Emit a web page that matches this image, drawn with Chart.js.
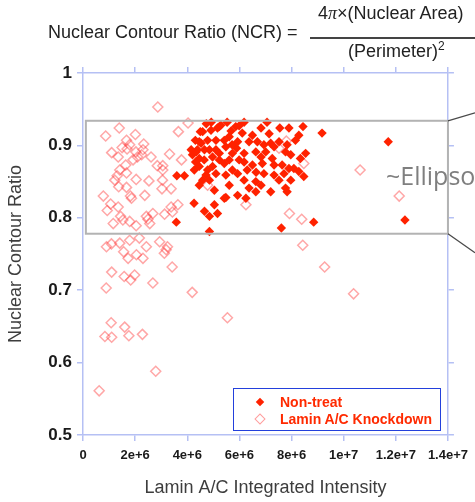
<!DOCTYPE html>
<html lang="en">
<head>
<meta charset="UTF-8">
<title>Nuclear Contour Ratio vs Lamin A/C Intensity</title>
<script src="https://cdn.jsdelivr.net/npm/chart.js"></script>
<style>
  html, body { margin: 0; padding: 0; background: #fff; overflow: hidden; }
  #wrap { position: relative; width: 475px; height: 502px; overflow: hidden;
          font-family: 'Liberation Sans', Arial, sans-serif; }
  #chart { position: absolute; left: 0; top: 0; }

  /* NCR formula above the plot */
  .eq { position: absolute; font-size: 18px; line-height: 18px; color: #222; white-space: nowrap; }
  .eq .pi { font-family: 'Liberation Serif', serif; font-style: italic; }
  .eq sup { font-size: 12px; line-height: 0; vertical-align: 7px; }
  #eqLhs { left: 48px; top: 23px; }
  #eqNum { left: 318px; top: 4px; }
  #eqDen { left: 348px; top: 42px; }
  #eqBar { position: absolute; left: 310px; top: 37px; width: 170px; height: 1.5px; background: #444; }

  #ellipse { position: absolute; left: 386px; top: 163px; font-family: 'Open Sans', sans-serif;
             font-size: 25px; line-height: 25px; color: #7f7f7f; white-space: nowrap; }

  #legend { position: absolute; left: 233px; top: 388px; width: 208px; height: 43px;
            box-sizing: border-box; border: 1.5px solid #2340dc; }
  #legend .row { position: absolute; left: 0; height: 16px; line-height: 16px;
                 font-size: 14px; font-weight: bold; color: #ff2a00; white-space: nowrap; }
  #legend .row span.txt { position: absolute; left: 46px; top: 0; }
  #legend .mk { position: absolute; transform: rotate(45deg); box-sizing: border-box; }
  #legend .mk.filled { left: 23px; top: 5px; width: 6px; height: 6px; background: #ff2200; }
  #legend .mk.open { left: 22px; top: 4px; width: 8px; height: 8px; border: 1.5px solid rgba(255, 60, 60, 0.5); }
</style>
</head>
<body>
<div id="wrap">
  <canvas id="chart" width="475" height="502"></canvas>

  <div class="eq" id="eqLhs">Nuclear Contour Ratio (NCR) =</div>
  <div class="eq" id="eqNum">4<span class="pi">π</span>×(Nuclear Area)</div>
  <div id="eqBar"></div>
  <div class="eq" id="eqDen">(Perimeter)<sup>2</sup></div>

  <div id="ellipse">~Ellipsoid</div>

  <div id="legend"></div>
</div>

<script>
// Lamin A/C integrated intensity (millions) vs nuclear contour ratio
const seriesNames = ['Non-treat', 'Lamin A/C Knockdown'];

const nonTreatX = [
  3.58, 3.60, 3.89, 4.26, 4.32, 4.39, 4.50, 4.20, 4.27, 4.46,
  4.78, 4.97, 5.10, 5.48, 4.72, 5.73, 4.15, 4.34, 4.53, 4.78,
  5.10, 5.23, 5.48, 5.73, 5.89, 5.61, 5.23, 4.46, 4.97, 4.85,
  4.59, 4.91, 5.23, 5.61, 5.86, 5.93, 5.10, 4.46, 4.46, 4.59,
  4.85, 4.66, 4.85, 5.16, 5.48, 5.93, 5.29, 6.50, 8.44, 9.17,
  6.37, 6.69, 6.94, 7.20, 7.52, 7.83, 8.15, 6.18, 6.63, 7.01,
  7.33, 7.77, 8.54, 8.34, 5.42, 6.18, 6.50, 6.88, 7.26, 7.33,
  7.64, 7.90, 8.09, 8.28, 5.93, 6.18, 6.63, 6.94, 7.33, 7.71,
  8.47, 4.85, 7.20, 7.77, 7.83, 5.42, 6.25, 6.63, 5.99, 11.71,
  12.35, 8.85, 7.61, 5.16, 4.66, 5.42, 6.11, 6.83, 7.14, 5.61,
  5.04, 6.83, 6.30, 5.99, 7.97, 7.52, 4.92, 5.53, 4.31, 6.64,
  5.72, 6.83, 5.68, 7.55, 7.97, 4.65, 6.37, 7.06, 7.90, 5.04,
  8.28, 6.18, 4.73
];
const nonTreatY = [
  0.794, 0.858, 0.858, 0.820, 0.877, 0.894, 0.919, 0.887, 0.866, 0.871,
  0.866, 0.871, 0.861, 0.859, 0.859, 0.866, 0.894, 0.891, 0.903, 0.907,
  0.894, 0.889, 0.898, 0.889, 0.896, 0.880, 0.880, 0.882, 0.884, 0.894,
  0.919, 0.921, 0.926, 0.912, 0.926, 0.905, 0.907, 0.905, 0.845, 0.852,
  0.781, 0.809, 0.802, 0.806, 0.828, 0.831, 0.928, 0.914, 0.926, 0.917,
  0.905, 0.905, 0.901, 0.903, 0.905, 0.901, 0.907, 0.889, 0.891, 0.891,
  0.898, 0.891, 0.889, 0.882, 0.875, 0.877, 0.873, 0.875, 0.882, 0.873,
  0.873, 0.868, 0.868, 0.864, 0.861, 0.852, 0.850, 0.861, 0.859, 0.861,
  0.857, 0.852, 0.836, 0.841, 0.836, 0.827, 0.827, 0.836, 0.927, 0.905,
  0.797, 0.794, 0.786, 0.924, 0.894, 0.907, 0.917, 0.924, 0.916, 0.845,
  0.838, 0.884, 0.866, 0.880, 0.887, 0.852, 0.932, 0.932, 0.907, 0.863,
  0.901, 0.845, 0.920, 0.924, 0.852, 0.880, 0.841, 0.932, 0.924, 0.818,
  0.914, 0.932, 0.930
];

const knockdownX = [
  2.87, 4.03, 3.66, 0.87, 1.39, 2.01, 1.67, 1.79, 1.50, 2.33,
  1.10, 1.35, 2.03, 2.09, 2.61, 3.32, 1.69, 1.92, 2.30, 2.25,
  3.78, 2.85, 3.06, 1.41, 1.64, 1.31, 1.67, 2.04, 2.53, 3.06,
  1.22, 3.05, 1.37, 0.78, 1.67, 1.82, 2.37, 3.03, 3.38, 1.06,
  1.35, 0.93, 1.44, 1.86, 2.43, 2.68, 3.13, 3.64, 3.38, 1.16,
  1.79, 2.04, 2.56, 2.49, 1.53, 0.90, 1.09, 1.41, 1.56, 1.79,
  2.05, 2.43, 2.94, 3.19, 3.24, 3.12, 1.73, 2.30, 2.16, 3.42,
  1.10, 1.58, 1.98, 1.83, 2.68, 0.89, 4.19, 1.08, 1.60, 0.84,
  1.10, 1.76, 2.28, 5.54, 2.79, 0.62, 4.78, 6.25, 7.52, 7.80,
  8.47, 7.92, 8.39, 8.43, 9.27, 10.63, 12.13, 10.38, 3.43
];
const knockdownY = [
  0.953, 0.931, 0.919, 0.913, 0.924, 0.915, 0.907, 0.901, 0.897, 0.902,
  0.890, 0.884, 0.891, 0.884, 0.884, 0.888, 0.895, 0.880, 0.894, 0.887,
  0.880, 0.872, 0.872, 0.866, 0.873, 0.858, 0.862, 0.853, 0.851, 0.866,
  0.852, 0.852, 0.843, 0.830, 0.842, 0.830, 0.831, 0.840, 0.840, 0.819,
  0.815, 0.810, 0.802, 0.827, 0.802, 0.806, 0.805, 0.818, 0.815, 0.792,
  0.795, 0.789, 0.792, 0.798, 0.797, 0.760, 0.764, 0.765, 0.753, 0.769,
  0.749, 0.760, 0.767, 0.756, 0.760, 0.751, 0.744, 0.744, 0.772, 0.732,
  0.725, 0.719, 0.721, 0.714, 0.710, 0.703, 0.697, 0.655, 0.649, 0.636,
  0.635, 0.637, 0.639, 0.662, 0.588, 0.561, 0.845, 0.818, 0.896, 0.906,
  0.875, 0.806, 0.798, 0.762, 0.732, 0.866, 0.830, 0.695, 0.808
];

const xTickLabels = ['0', '2e+6', '4e+6', '6e+6', '8e+6', '1e+7', '1.2e+7', '1.4e+7'];
const yTickLabels = ['0.5', '0.6', '0.7', '0.8', '0.9', '1'];

// highlighted region (data units) with connector lines to the right edge
const focusBox = { xMin: 0.11e6, xMax: 1.4e7, yMin: 0.778, yMax: 0.934 };

function toPoints(xs, ys) {
  return xs.map((x, i) => ({ x: x * 1e6, y: ys[i] }));
}

Chart.defaults.font.family = "'Liberation Sans', Arial, sans-serif";

const axisBlue = '#b5c0f4';
const frameGrid = { drawOnChartArea: false, color: axisBlue, lineWidth: 1.5, tickLength: 6 };
const frameBorder = { color: axisBlue, width: 1.5 };
const tickFont = { weight: 'bold' };

const focusBoxPlugin = {
  id: 'focusBox',
  afterDatasetsDraw(chart) {
    const { ctx, scales: { x, y } } = chart;
    const l = x.getPixelForValue(focusBox.xMin);
    const r = x.getPixelForValue(focusBox.xMax);
    const t = y.getPixelForValue(focusBox.yMax);
    const b = y.getPixelForValue(focusBox.yMin);
    ctx.save();
    ctx.strokeStyle = '#b3b3b3';
    ctx.lineWidth = 2;
    ctx.strokeRect(l, t, r - l, b - t);
    ctx.strokeStyle = '#4a4a4a';
    ctx.lineWidth = 1.3;
    ctx.beginPath();
    ctx.moveTo(r, t);
    ctx.lineTo(chart.width, t - 8);
    ctx.moveTo(r, b);
    ctx.lineTo(chart.width, b + 19);
    ctx.stroke();
    ctx.restore();
  }
};

const ctx = document.getElementById('chart').getContext('2d');
const ncrChart = new Chart(ctx, {
  type: 'scatter',
  data: {
    datasets: [{
      label: seriesNames[0],
      data: toPoints(nonTreatX, nonTreatY),
      pointStyle: 'rectRot',
      pointRadius: 4.7,
      backgroundColor: '#ff2200',
      borderColor: '#ff2200',
      borderWidth: 0
    }, {
      label: seriesNames[1],
      data: toPoints(knockdownX, knockdownY),
      pointStyle: 'rectRot',
      pointRadius: 5,
      backgroundColor: 'rgba(255,255,255,0)',
      borderColor: 'rgba(255,60,60,0.45)',
      borderWidth: 1.5
    }]
  },
  options: {
    responsive: false,
    animation: false,
    devicePixelRatio: 1,
    layout: { padding: 0 },
    plugins: {
      legend: { display: false },
      tooltip: { enabled: false }
    },
    scales: {
      x: {
        type: 'linear', position: 'bottom', min: 0, max: 1.4e7,
        ticks: {
          stepSize: 2e6, padding: 7, color: '#1a1a1a', maxRotation: 0, autoSkip: false,
          font: { ...tickFont, size: 13 },
          callback: (v, i) => xTickLabels[i]
        },
        grid: frameGrid,
        border: frameBorder,
        title: {
          display: true, text: 'Lamin A/C Integrated Intensity', color: '#3d3d3d',
          font: { size: 18 }, padding: { top: 0, bottom: 3 }
        },
        afterFit: s => { s.height = 67; }
      },
      x2: {
        type: 'linear', position: 'top', min: 0, max: 1.4e7,
        ticks: { stepSize: 2e6, display: false },
        grid: frameGrid,
        border: frameBorder,
        afterFit: s => { s.height = 73; }
      },
      y: {
        type: 'linear', position: 'left', min: 0.5, max: 1,
        ticks: {
          stepSize: 0.1, padding: 5, color: '#1a1a1a',
          font: { ...tickFont, size: 17 },
          callback: (v, i) => yTickLabels[i]
        },
        grid: frameGrid,
        border: frameBorder,
        title: {
          display: true, text: 'Nuclear Contour Ratio', color: '#3d3d3d',
          font: { size: 18 }, padding: { top: 5, bottom: 0 }
        },
        afterFit: s => { s.width = 83; }
      },
      y2: {
        type: 'linear', position: 'right', min: 0.5, max: 1,
        ticks: { stepSize: 0.1, display: false },
        grid: frameGrid,
        border: frameBorder,
        afterFit: s => { s.width = 25; }
      }
    }
  },
  plugins: [focusBoxPlugin]
});

// legend box inside the plot, built from the dataset styles
const legendEl = document.getElementById('legend');
ncrChart.data.datasets.forEach((ds, i) => {
  const row = document.createElement('div');
  row.className = 'row';
  row.style.top = (5 + i * 17) + 'px';
  row.style.width = '100%';
  const mk = document.createElement('span');
  mk.className = 'mk ' + (i === 0 ? 'filled' : 'open');
  const txt = document.createElement('span');
  txt.className = 'txt';
  txt.textContent = ds.label;
  row.appendChild(mk);
  row.appendChild(txt);
  legendEl.appendChild(row);
});
</script>
</body>
</html>
